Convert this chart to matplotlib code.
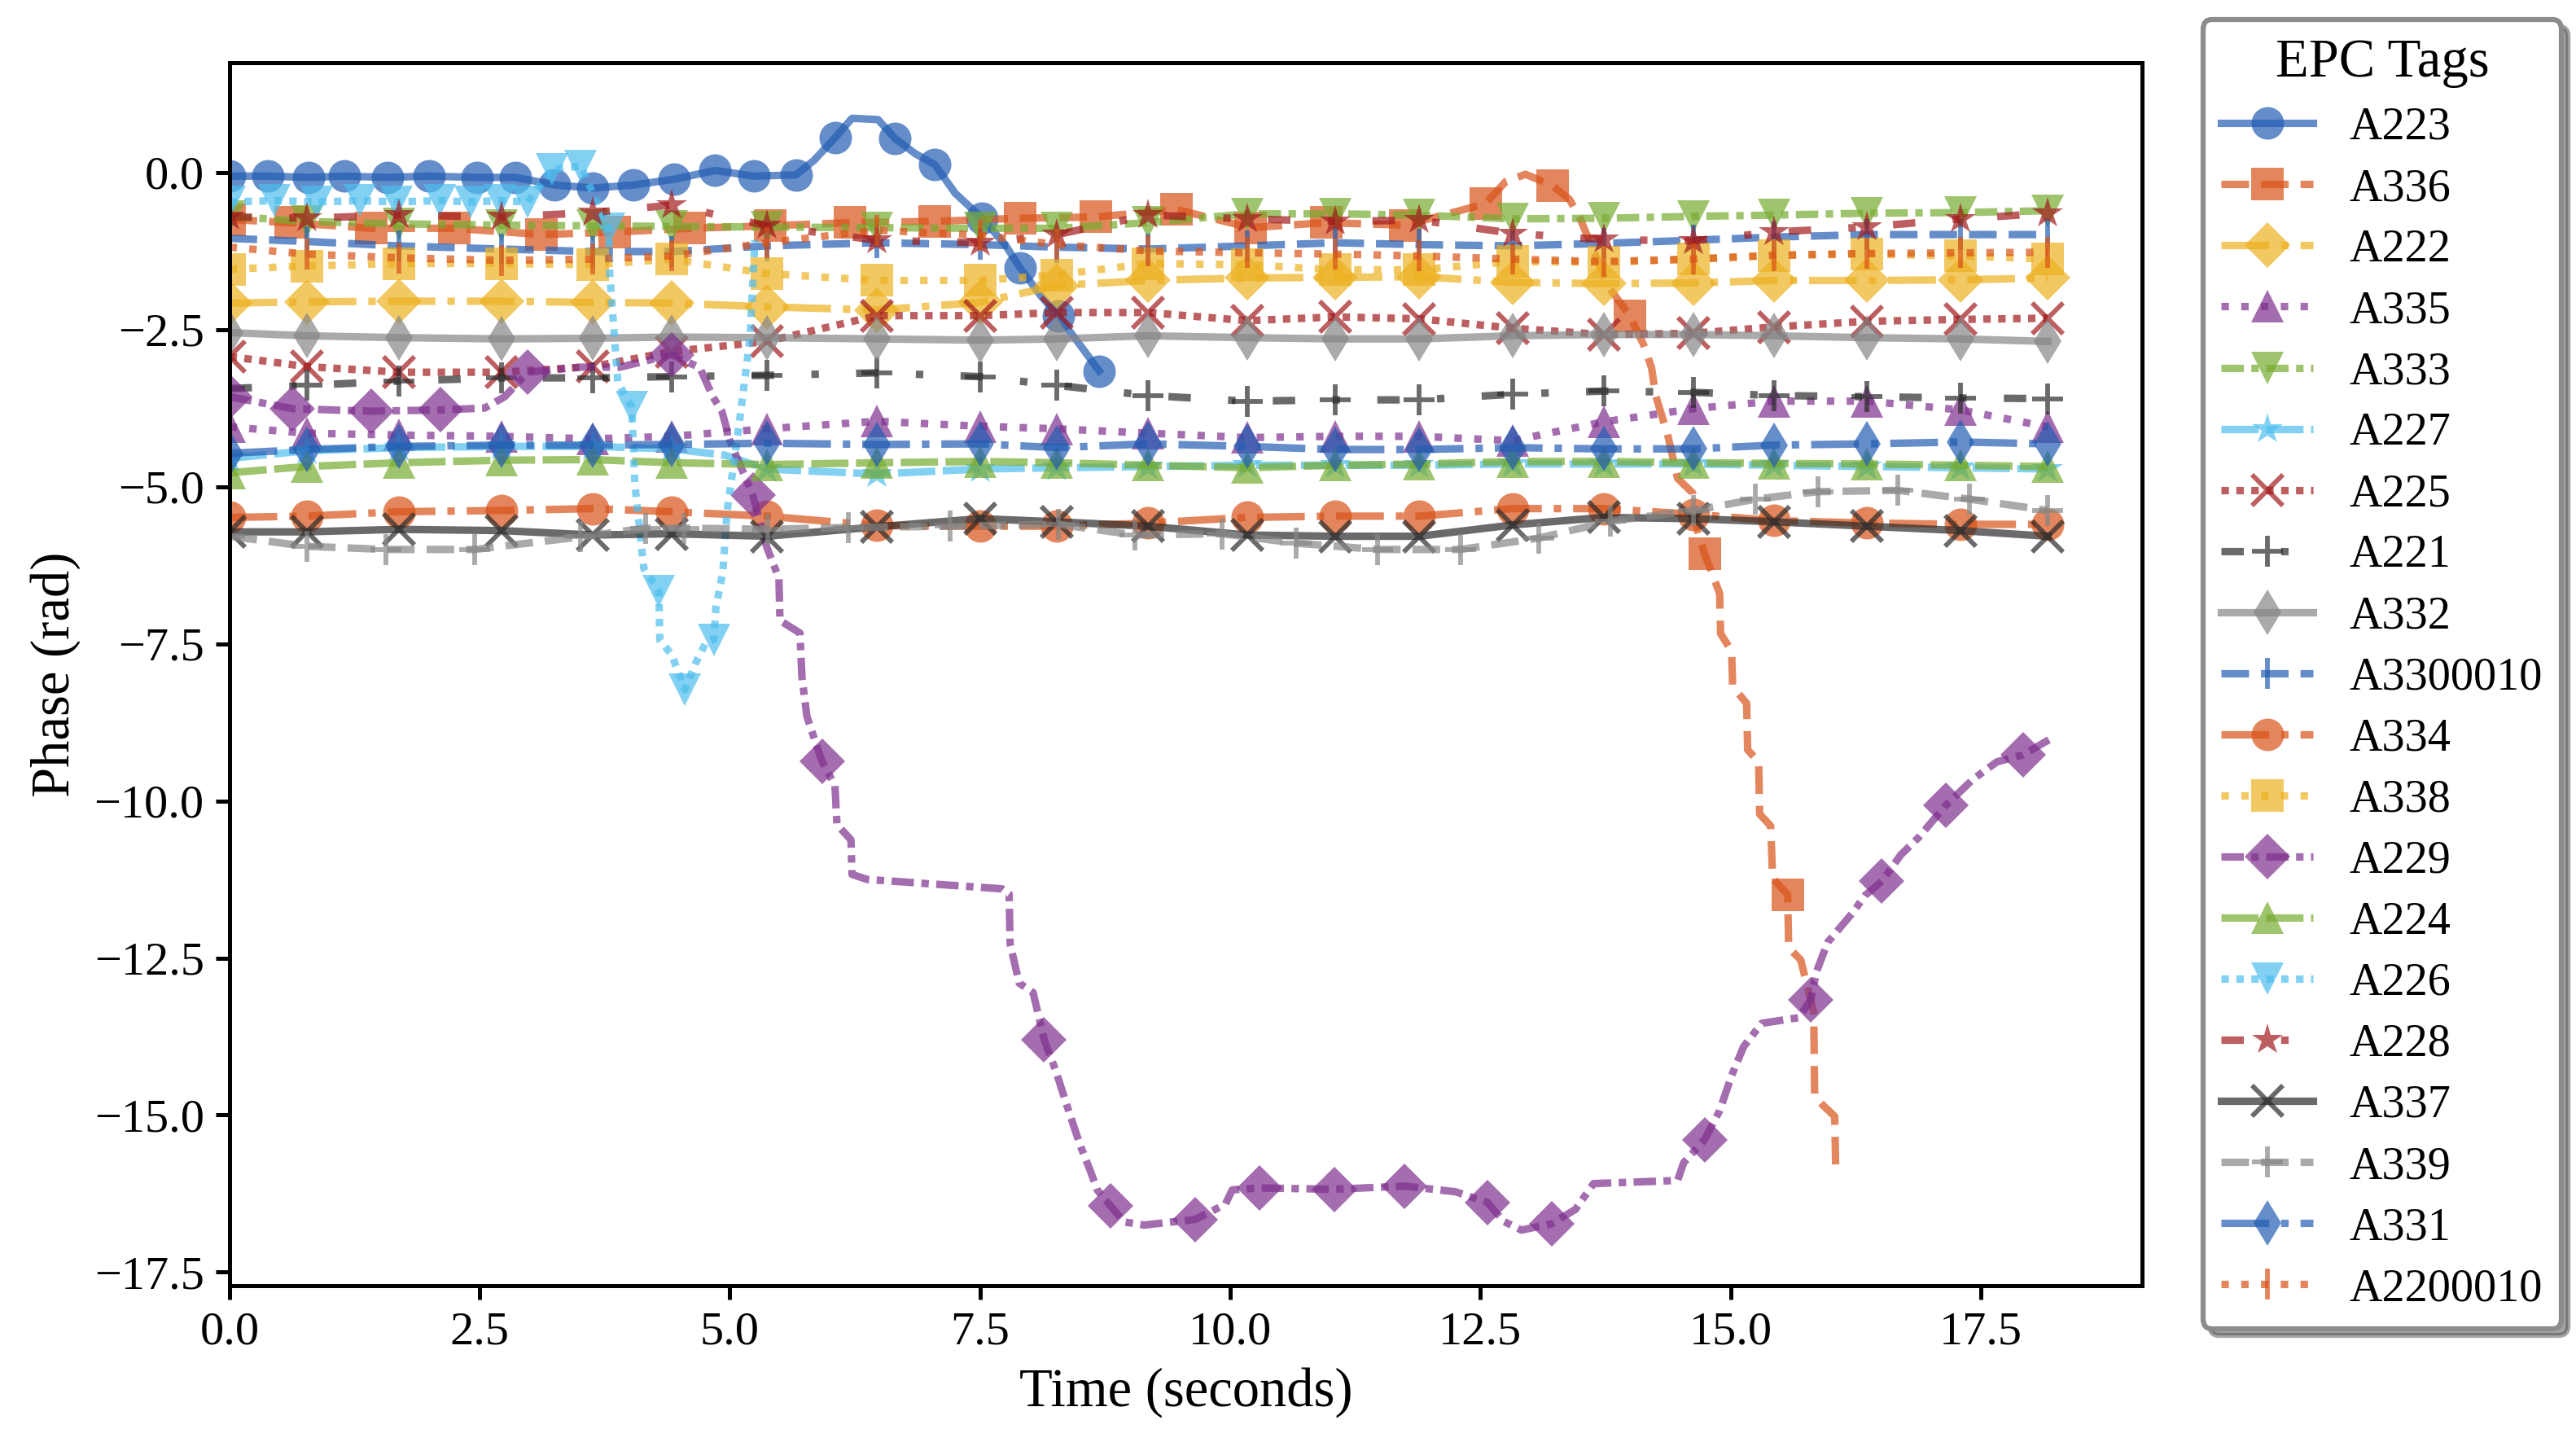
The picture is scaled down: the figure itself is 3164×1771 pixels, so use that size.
import matplotlib
matplotlib.use('Agg')
import matplotlib.pyplot as plt

plt.rcParams['font.family'] = ['Liberation Serif', 'DejaVu Serif']
plt.rcParams['axes.unicode_minus'] = True

# ---------------- data ----------------
tags = ['A223', 'A336', 'A222', 'A335', 'A333', 'A227', 'A225', 'A221', 'A332', 'A3300010',
        'A334', 'A338', 'A229', 'A224', 'A226', 'A228', 'A337', 'A339', 'A331', 'A2200010']

# common read times shared by most tags (seconds)
t_common = [0.0, 0.77, 1.69, 2.72, 3.63, 4.42, 5.37, 6.47, 7.50, 8.27, 9.18, 10.17,
            11.05, 11.89, 12.82, 13.73, 14.63, 15.43, 16.36, 17.30, 18.17]

A222 = [-2.08, -2.06, -2.05, -2.05, -2.07, -2.08, -2.14, -2.19, -2.07, -1.80, -1.72, -1.68,
        -1.67, -1.66, -1.75, -1.77, -1.76, -1.72, -1.72, -1.71, -1.68]
A332 = [-2.55, -2.60, -2.63, -2.65, -2.64, -2.62, -2.63, -2.65, -2.67, -2.65, -2.60, -2.63,
        -2.65, -2.65, -2.60, -2.58, -2.58, -2.60, -2.63, -2.65, -2.69]
A225 = [-2.93, -3.09, -3.18, -3.18, -3.09, -2.85, -2.69, -2.28, -2.28, -2.23, -2.23, -2.36,
        -2.30, -2.33, -2.48, -2.58, -2.56, -2.46, -2.37, -2.34, -2.32]
A221 = [-3.44, -3.39, -3.32, -3.27, -3.27, -3.25, -3.23, -3.19, -3.25, -3.39, -3.55, -3.64,
        -3.62, -3.62, -3.53, -3.48, -3.50, -3.55, -3.57, -3.59, -3.60]
A228 = [-0.71, -0.73, -0.68, -0.71, -0.64, -0.52, -0.85, -1.08, -1.12, -0.99, -0.68, -0.74,
        -0.78, -0.76, -0.97, -1.07, -1.09, -0.95, -0.87, -0.74, -0.65]
A338 = [-1.54, -1.49, -1.45, -1.45, -1.47, -1.38, -1.61, -1.72, -1.72, -1.63, -1.45, -1.47,
        -1.55, -1.55, -1.42, -1.43, -1.38, -1.32, -1.30, -1.33, -1.38]
A2200010 = [-1.19, -1.30, -1.36, -1.40, -1.38, -1.33, -1.12, -0.92, -1.00, -1.15, -1.25, -1.28,
            -1.30, -1.33, -1.38, -1.42, -1.38, -1.32, -1.29, -1.28, -1.27]
A3300010 = [-1.05, -1.10, -1.17, -1.22, -1.26, -1.26, -1.17, -1.12, -1.15, -1.19, -1.22, -1.17,
            -1.12, -1.15, -1.17, -1.13, -1.08, -1.03, -0.99, -0.99, -0.99]
A224 = [-4.78, -4.68, -4.62, -4.58, -4.57, -4.62, -4.65, -4.62, -4.60, -4.62, -4.66, -4.70,
        -4.66, -4.64, -4.60, -4.60, -4.62, -4.63, -4.64, -4.66, -4.68]
A331 = [-4.47, -4.41, -4.36, -4.34, -4.34, -4.33, -4.31, -4.33, -4.32, -4.38, -4.32, -4.36,
        -4.41, -4.41, -4.38, -4.40, -4.40, -4.34, -4.32, -4.29, -4.32]
A335 = [-4.05, -4.15, -4.18, -4.20, -4.24, -4.20, -4.08, -3.96, -4.04, -4.08, -4.15, -4.22,
        -4.20, -4.20, -4.27, -3.97, -3.76, -3.64, -3.64, -3.78, -4.05]
A333 = [-0.70, -0.78, -0.82, -0.84, -0.85, -0.86, -0.87, -0.88, -0.89, -0.89, -0.80, -0.66,
        -0.66, -0.68, -0.74, -0.73, -0.70, -0.68, -0.65, -0.64, -0.61]
A334 = [-5.49, -5.47, -5.40, -5.38, -5.35, -5.40, -5.47, -5.62, -5.63, -5.63, -5.58, -5.49,
        -5.47, -5.47, -5.35, -5.35, -5.44, -5.54, -5.58, -5.60, -5.60]
A337 = [-5.72, -5.72, -5.68, -5.70, -5.77, -5.75, -5.79, -5.64, -5.51, -5.56, -5.63, -5.77,
        -5.79, -5.79, -5.61, -5.49, -5.51, -5.56, -5.63, -5.70, -5.79]

t_A227 = [0.0, 0.77, 1.69, 2.72, 3.63, 4.42, 4.95, 5.37, 6.47, 7.50, 8.27, 9.18, 10.17, 11.05,
          11.89, 12.82, 13.73, 14.63, 15.43, 16.36, 17.30, 18.17]
A227 = [-4.55, -4.43, -4.38, -4.36, -4.36, -4.40, -4.50, -4.72, -4.80, -4.72, -4.70, -4.68,
        -4.66, -4.66, -4.66, -4.64, -4.64, -4.64, -4.66, -4.68, -4.70, -4.72]
mk_A227 = [0, 1, 2, 3, 4, 5, 7, 8, 9, 10, 11, 12, 13, 14, 15, 16, 17, 18, 19, 20, 21]

t_A339 = [0.0, 0.77, 1.56, 2.45, 3.51, 4.16, 4.54, 5.38, 6.18, 7.20, 8.28, 9.05, 9.92, 10.66,
          11.47, 12.30, 13.08, 13.80, 14.63, 15.25, 15.87, 16.67, 17.39, 18.17]
A339 = [-5.79, -5.95, -6.00, -6.00, -5.80, -5.66, -5.66, -5.68, -5.65, -5.63, -5.60, -5.77,
        -5.75, -5.90, -6.00, -6.00, -5.82, -5.55, -5.38, -5.20, -5.08, -5.06, -5.20, -5.38]

t_A223 = [0.0, 0.38, 0.79, 1.15, 1.58, 1.99, 2.47, 2.86, 3.25, 3.63, 4.04, 4.44, 4.85, 5.24,
          5.66, 5.84, 6.05, 6.22, 6.48, 6.65, 6.85, 7.05, 7.25, 7.52, 7.75, 7.90, 8.10, 8.28,
          8.50, 8.69]
A223 = [-0.06, -0.06, -0.08, -0.06, -0.08, -0.06, -0.08, -0.08, -0.20, -0.25, -0.20, -0.11,
        0.03, -0.06, -0.04, 0.19, 0.55, 0.86, 0.84, 0.54, 0.30, 0.12, -0.33, -0.73, -1.15,
        -1.52, -1.95, -2.28, -2.75, -3.16]
mk_A223 = list(range(15)) + [16, 19, 21, 23, 25, 27, 29]

t_A226 = [0.0, 0.45, 0.87, 1.30, 1.67, 2.10, 2.41, 2.70, 2.98, 3.22, 3.51, 3.79, 3.80, 3.88,
          4.02, 4.05, 4.14, 4.29, 4.30, 4.42, 4.55, 4.66, 4.76, 4.84, 4.86, 4.93, 4.97, 5.09,
          5.20, 5.25]
A226 = [-0.47, -0.45, -0.47, -0.45, -0.47, -0.45, -0.47, -0.45, -0.47, 0.05, 0.10, -0.90,
        -1.63, -3.34, -3.74, -4.96, -6.30, -6.66, -7.44, -7.68, -8.23, -7.80, -7.48, -7.44,
        -6.93, -6.35, -5.42, -4.04, -2.65, -1.08]
mk_A226 = list(range(12)) + [14, 17, 20, 23]

t_A336 = [0.0, 0.61, 1.42, 2.25, 3.12, 3.85, 4.60, 5.40, 6.20, 7.05, 7.90, 8.66, 9.46, 10.20,
          10.96, 11.75, 12.55, 12.75, 12.95, 13.22, 13.39, 13.50, 13.78, 13.99, 14.13, 14.21,
          14.25, 14.37, 14.47, 14.62, 14.65, 14.74, 14.89, 14.90, 15.01, 15.02, 15.16, 15.17,
          15.28, 15.29, 15.40, 15.42, 15.57, 15.58, 15.70, 15.83, 15.84, 15.92, 16.04, 16.05]
A336 = [-0.75, -0.80, -0.89, -0.89, -0.99, -0.95, -0.89, -0.85, -0.80, -0.78, -0.73, -0.71,
        -0.59, -0.88, -0.80, -0.84, -0.50, -0.15, -0.03, -0.21, -0.43, -0.75, -1.82, -2.28,
        -2.74, -3.11, -3.55, -4.17, -4.87, -5.10, -5.60, -6.07, -6.70, -7.34, -7.62, -8.18,
        -8.45, -9.19, -9.38, -10.21, -10.40, -11.23, -11.49, -12.34, -12.53, -13.36, -14.70,
        -14.84, -15.02, -15.86]
mk_A336 = list(range(17)) + [19, 23, 31, 42]

t_A229 = [0.0, 0.63, 1.42, 2.11, 2.55, 2.75, 2.98, 3.50, 3.90, 4.42, 4.70, 4.83, 4.92, 5.00,
          5.23, 5.37, 5.49, 5.50, 5.70, 5.72, 5.77, 5.92, 6.05, 6.07, 6.21, 6.22, 6.37, 7.72,
          7.79, 7.80, 7.89, 8.03, 8.14, 8.26, 8.37, 8.50, 8.60, 8.67, 8.80, 8.94, 9.14, 9.65,
          9.95, 10.02, 10.29, 11.04, 11.74, 12.25, 12.57, 12.73, 12.91, 13.21, 13.45, 13.63,
          14.47, 14.53, 14.74, 14.89, 15.01, 15.13, 15.31, 15.68, 15.80, 15.86, 15.97, 16.22,
          16.34, 16.51, 16.70, 16.88, 17.15, 17.42, 17.66, 17.92, 18.20]
A229 = [-3.57, -3.76, -3.80, -3.78, -3.75, -3.57, -3.18, -3.10, -3.10, -2.90, -3.11, -3.57,
        -3.80, -4.27, -5.14, -5.97, -6.46, -7.13, -7.33, -8.03, -8.66, -9.37, -9.76, -10.38,
        -10.62, -11.17, -11.25, -11.40, -11.48, -12.27, -12.90, -13.05, -13.80, -14.31, -14.86,
        -15.48, -15.88, -16.19, -16.44, -16.70, -16.75, -16.66, -16.42, -16.19, -16.16, -16.18,
        -16.13, -16.22, -16.39, -16.69, -16.83, -16.73, -16.50, -16.09, -16.04, -15.76, -15.39,
        -14.93, -14.37, -13.91, -13.54, -13.45, -13.17, -12.71, -12.25, -11.78, -11.51, -11.28,
        -10.86, -10.58, -10.07, -9.66, -9.38, -9.27, -9.01]
mk_A229 = [0, 1, 2, 3, 6, 9, 14, 21, 32, 38, 41, 44, 45, 46, 48, 51, 56, 62, 67, 70, 73]

series = {
    'A223': (t_A223, A223, mk_A223),
    'A336': (t_A336, A336, mk_A336),
    'A222': (t_common, A222, None),
    'A335': (t_common, A335, None),
    'A333': (t_common, A333, None),
    'A227': (t_A227, A227, mk_A227),
    'A225': (t_common, A225, None),
    'A221': (t_common, A221, None),
    'A332': (t_common, A332, None),
    'A3300010': (t_common, A3300010, None),
    'A334': (t_common, A334, None),
    'A338': (t_common, A338, None),
    'A229': (t_A229, A229, mk_A229),
    'A224': (t_common, A224, None),
    'A226': (t_A226, A226, mk_A226),
    'A228': (t_common, A228, None),
    'A337': (t_common, A337, None),
    'A339': (t_A339, A339, None),
    'A331': (t_common, A331, None),
    'A2200010': (t_common, A2200010, None),
}

# ---------------- style ----------------
colors = ['#225DB2', '#D95319', '#EDB120', '#7E2F8E', '#77AC30', '#4DBEEE', '#A21A1C',
          '#2B2B2B', '#868686']
markers = ['o', 's', 'D', '^', 'v', '*', 'x', '+', 'd', '|']
linestyles = ['-', '--', '-.', ':', (0, (3, 1, 1, 1)), (0, (5, 1)), (0, (1, 1)),
              (0, (3, 5, 1, 5))]
unfilled = {'x', '+', '|'}

fig = plt.figure(figsize=(3164 / 300, 1771 / 300), dpi=300)
ax = fig.add_axes([0.0891, 0.1084, 0.8315 - 0.0891, 0.9565 - 0.1084])

for i, name in enumerate(tags):
    t, v, mk = series[name]
    m = markers[i % 10]
    if m in unfilled:
        ms, mew = 9.0, 1.4
    else:
        ms, mew = 9.6, 0.0
    ax.plot(t, v, color=colors[i % 9], marker=m,
            linestyle=linestyles[i % 8], linewidth=2.2, markersize=ms,
            markeredgewidth=mew, alpha=0.7, markevery=mk, label=name)

ax.set_xlim(left=0)
ax.set_xlabel('Time (seconds)', fontsize=16)
ax.set_ylabel('Phase (rad)', fontsize=16)
ax.tick_params(axis='both', labelsize=14, width=1.2, length=4)
for sp in ax.spines.values():
    sp.set_linewidth(1.2)

leg = ax.legend(title='EPC Tags', loc='center left', bbox_to_anchor=(1.02, 0.5),
                fontsize=13.5, title_fontsize=16, shadow=True, fancybox=True,
                framealpha=1.0, edgecolor='0.55', labelspacing=0.41)
leg.get_frame().set_linewidth(1.5)

fig.savefig('out.png', dpi=300)
